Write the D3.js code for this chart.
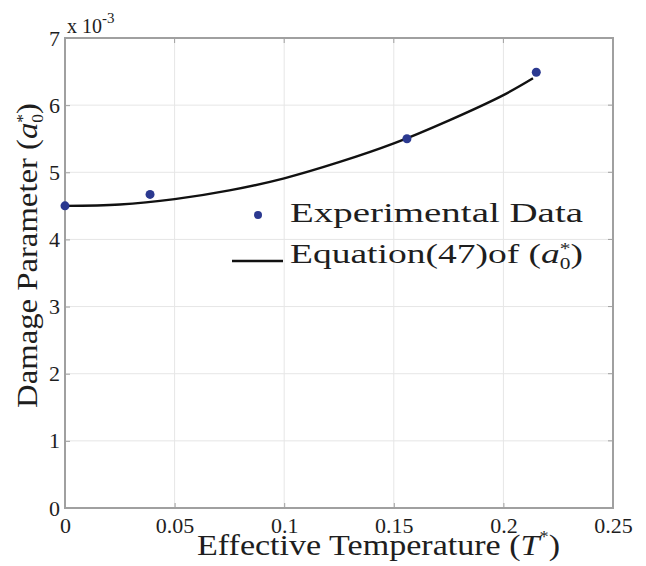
<!DOCTYPE html>
<html><head><meta charset="utf-8">
<script src="https://cdn.jsdelivr.net/npm/d3@7"></script>
<style>body{margin:0;background:#fff}svg{display:block}text{font-family:"Liberation Serif","DejaVu Serif",serif}</style>
</head><body><svg id="c" width="646" height="566"></svg>
<script>
const xTicks = [0, 0.05, 0.1, 0.15, 0.2, 0.25];
const xTickLabels = ["0", "0.05", "0.1", "0.15", "0.2", "0.25"];
const yTicks = [0, 1, 2, 3, 4, 5, 6, 7];
const expT = [0, 0.0388, 0.156, 0.215];
const expA = [4.5, 4.67, 5.5, 6.49];
const fitT = [0, 0.025, 0.05, 0.075, 0.1, 0.125, 0.15, 0.175, 0.2, 0.2135];
const fitA = [4.5, 4.52, 4.6, 4.73, 4.91, 5.15, 5.43, 5.77, 6.15, 6.40];

const svg = d3.select("#c");
const L = 65, R = 613, T = 38, B = 508;
const x = d3.scaleLinear().domain([0, 0.25]).range([L, R]);
const y = d3.scaleLinear().domain([0, 7]).range([B, T]);
const ink = "#1e1e1e";

// grid
svg.append("g").selectAll("line").data(xTicks).join("line")
  .attr("x1", d => x(d)).attr("x2", d => x(d)).attr("y1", T).attr("y2", B)
  .attr("stroke", "#e6e6e6").attr("stroke-width", 1);
svg.append("g").selectAll("line").data(yTicks).join("line")
  .attr("y1", d => y(d)).attr("y2", d => y(d)).attr("x1", L).attr("x2", R)
  .attr("stroke", "#e6e6e6").attr("stroke-width", 1);

// axes
const xa = svg.append("g").attr("transform", `translate(0,${B})`)
  .call(d3.axisBottom(x).tickValues(xTicks).tickFormat((d,i) => xTickLabels[i]).tickSize(-5).tickPadding(9));
const ya = svg.append("g").attr("transform", `translate(${L},0)`)
  .call(d3.axisLeft(y).tickValues(yTicks).tickFormat(d3.format("d")).tickSize(-5).tickPadding(5));
[xa, ya].forEach(a => {
  a.select(".domain").remove();
  a.selectAll(".tick line").attr("stroke", "#a0a0a0");
  a.selectAll(".tick text").attr("font-family", "Liberation Serif").attr("font-size", 22).attr("fill", ink);
});
ya.selectAll(".tick text").attr("dy", "0.32em");
// top/right ticks
svg.append("g").selectAll("line").data(xTicks).join("line")
  .attr("x1", d => x(d)).attr("x2", d => x(d)).attr("y1", T).attr("y2", T + 5).attr("stroke", "#a0a0a0");
svg.append("g").selectAll("line").data(yTicks).join("line")
  .attr("y1", d => y(d)).attr("y2", d => y(d)).attr("x1", R).attr("x2", R - 5).attr("stroke", "#a0a0a0");
// frame
svg.append("rect").attr("x", L).attr("y", T).attr("width", R - L).attr("height", B - T)
  .attr("fill", "none").attr("stroke", "#a0a0a0").attr("stroke-width", 2);

// exponent label
const ex = svg.append("text").attr("x", 67).attr("y", 33).attr("font-size", 20).attr("fill", ink);
ex.append("tspan").text("x 10");
ex.append("tspan").attr("dy", -10).attr("font-size", 15).text("-3");

// fit curve
const line = d3.line().x((d, i) => x(fitT[i])).y((d, i) => y(fitA[i])).curve(d3.curveCatmullRom);
svg.append("path").datum(fitA).attr("d", line).attr("fill", "none").attr("stroke", "#111").attr("stroke-width", 2.4);

// points
svg.append("g").selectAll("circle").data(expA).join("circle")
  .attr("cx", (d, i) => x(expT[i])).attr("cy", d => y(d)).attr("r", 4.5).attr("fill", "#2b3990");

// legend
svg.append("circle").attr("cx", 258).attr("cy", 215).attr("r", 4).attr("fill", "#2b3990");
svg.append("text").attr("x", 290).attr("y", 222).attr("font-size", 28).attr("fill", ink)
  .attr("textLength", 293).attr("lengthAdjust", "spacingAndGlyphs").text("Experimental Data");
svg.append("line").attr("x1", 232).attr("x2", 283).attr("y1", 261).attr("y2", 261).attr("stroke", "#111").attr("stroke-width", 2.4);
const lt = svg.append("text").attr("x", 290).attr("y", 263).attr("font-size", 28).attr("fill", ink)
  .attr("textLength", 293).attr("lengthAdjust", "spacingAndGlyphs");
lt.append("tspan").text("Equation(47)of (");
lt.append("tspan").attr("font-style", "italic").text("a");
lt.append("tspan").attr("font-size", 16).attr("dy", -9).text("*");
lt.append("tspan").attr("font-size", 16).attr("dx", -8).attr("dy", 15).text("0");
lt.append("tspan").attr("dy", -6).text(")");

// x title
const xt = svg.append("text").attr("x", 197).attr("y", 555).attr("font-size", 30).attr("fill", ink)
  .attr("textLength", 363).attr("lengthAdjust", "spacingAndGlyphs");
xt.append("tspan").text("Effective Temperature (");
xt.append("tspan").attr("font-style", "italic").text("T");
xt.append("tspan").attr("font-size", 16).attr("dy", -13).text("*");
xt.append("tspan").attr("dy", 13).text(")");

// y title
const yt = svg.append("text").attr("transform", "translate(37,408) rotate(-90)").attr("font-size", 30).attr("fill", ink)
  .attr("textLength", 305).attr("lengthAdjust", "spacingAndGlyphs");
yt.append("tspan").text("Damage Parameter (");
yt.append("tspan").attr("font-style", "italic").text("a");
yt.append("tspan").attr("font-size", 16).attr("dy", -9).text("*");
yt.append("tspan").attr("font-size", 16).attr("dx", -8).attr("dy", 15).text("0");
yt.append("tspan").attr("dy", -6).text(")");
</script></body></html>
